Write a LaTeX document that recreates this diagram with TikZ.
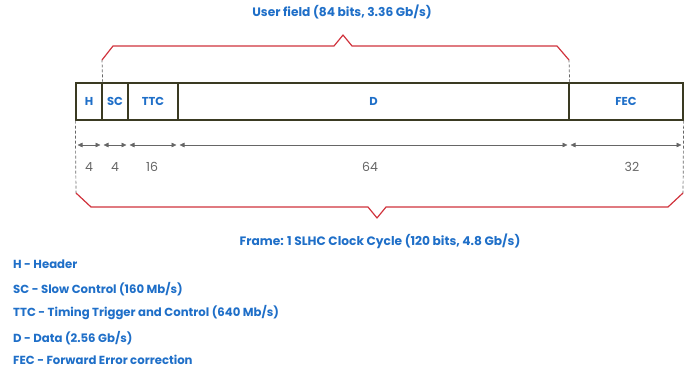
\documentclass[tikz,border=0pt]{standalone}
\usepackage{fontspec}
\setmainfont{Poppins}
\usetikzlibrary{arrows.meta}
\definecolor{txtblue}{HTML}{1F6FC8}
\definecolor{brred}{HTML}{D0323C}
\definecolor{boxline}{HTML}{3A3A22}
\definecolor{dimgray}{HTML}{666666}
\tikzset{
  field/.style={draw=boxline, line width=1.3pt, inner sep=0pt, minimum height=37pt,
    text=txtblue, font=\fontsize{11.5}{13}\selectfont\bfseries},
  dimline/.style={draw=dimgray, line width=0.6pt,
    {Triangle[length=5pt,width=4.5pt]}-{Triangle[length=5pt,width=4.5pt]},
    shorten <=1.5pt, shorten >=1.5pt},
  dimnum/.style={text=dimgray, font=\fontsize{12.5}{14}\selectfont},
  guide/.style={draw=dimgray, line width=0.7pt, dash pattern=on 3pt off 2pt},
  brace/.style={draw=brred, line width=1.2pt, line join=round},
  title/.style={text=txtblue, font=\fontsize{12.2}{14}\selectfont\bfseries},
  legend/.style={text=txtblue, anchor=west, inner sep=0pt, font=\fontsize{11.7}{13}\selectfont\bfseries},
}
\begin{document}
\begin{tikzpicture}[x=1pt,y=-1pt]
\useasboundingbox (0,0) rectangle (691,369);
% fields
\node[field, minimum width=26pt]  (H)   at (89,101.5)  {H};
\node[field, minimum width=26pt]  (SC)  at (115,101.5) {SC};
\node[field, minimum width=50pt]  (TTC) at (153,101.5) {TTC};
\node[field, minimum width=391pt] (D)   at (373.5,101.5) {D};
\node[field, minimum width=114pt] (FEC) at (626,101.5) {FEC};
% coordinates
\coordinate (ulA) at (102,60);
\coordinate (ulB) at (569,60);
\coordinate (flA) at (76,193);
\coordinate (flB) at (683,193);
% guides
\draw[guide] (H.north east) -- (ulA);
\draw[guide] (D.north east) -- (ulB);
\draw[guide] (H.south west) -- (flA);
\draw[guide] (FEC.south east) -- (flB);
% dimension arrows
\coordinate (d0) at (76,145);
\coordinate (d1) at (102,145);
\coordinate (d2) at (128,145);
\coordinate (d3) at (178,145);
\coordinate (d4) at (569,145);
\coordinate (d5) at (683,145);
\draw[dimline] (d0) -- (d1);
\draw[dimline] (d1) -- (d2);
\draw[dimline] (d2) -- (d3);
\draw[dimline] (d3) -- (d4);
\draw[dimline] (d4) -- (d5);
\node[dimnum] (n1) at (89,167) {4};
\node[dimnum] (n2) at (115,167) {4};
\node[dimnum] (n3) at (152,167) {16};
\node[dimnum] (n4) at (370,167) {64};
\node[dimnum] (n5) at (632,167) {32};
% upper brace
\draw[brace] (ulA) -- (113,46) -- (334,46) -- (343,35) -- (352,46) -- (557,46) -- (ulB);
\node[title] (ut) at (342,12) {User field (84 bits, 3.36 Gb/s)};
% lower brace
\draw[brace] (flA) -- (91,207) -- (368,207) -- (377,218) -- (386,207) -- (668,207) -- (flB);
\node[title] (ft) at (380,241) {Frame: 1 SLHC Clock Cycle (120 bits, 4.8 Gb/s)};
% legend
\node[legend] (l1) at (13,264) {H - Header};
\node[legend] (l2) at (13,289) {SC - Slow Control (160 Mb/s)};
\node[legend] (l3) at (13,313) {TTC - Timing Trigger and Control (640 Mb/s)};
\node[legend] (l4) at (13,338) {D - Data (2.56 Gb/s)};
\node[legend] (l5) at (13,360) {FEC - Forward Error correction};
\end{tikzpicture}
\end{document}
